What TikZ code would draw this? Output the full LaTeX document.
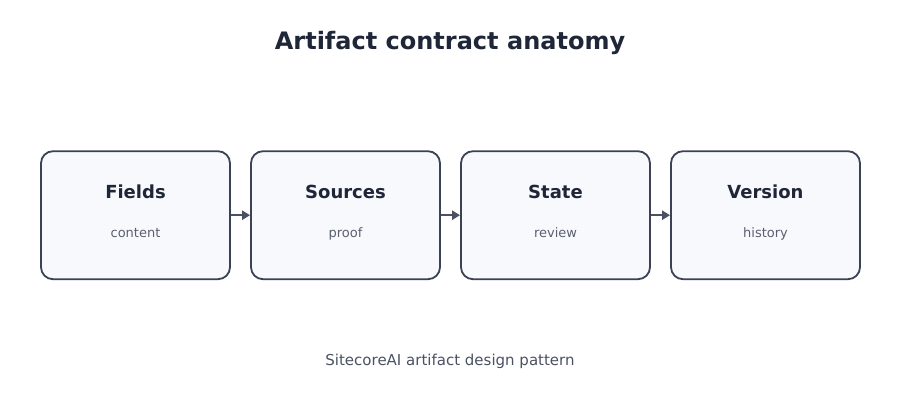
\documentclass[tikz,border=0pt]{standalone}
\usepackage{fontspec}
\setmainfont{DejaVu Sans}
\usetikzlibrary{arrows.meta}
\definecolor{ink}{HTML}{1E2638}
\definecolor{edge}{HTML}{3B4255}
\definecolor{boxfill}{HTML}{F7F9FC}
\definecolor{sub}{HTML}{5A6070}
\definecolor{foot}{HTML}{4A5163}
\definecolor{arr}{HTML}{4A5163}
\begin{document}
\begin{tikzpicture}[x=1pt,y=-1pt,
  stagebox/.style={draw=edge,line width=1.8pt,fill=boxfill,rounded corners=12pt,minimum width=189pt,minimum height=128pt,inner sep=0pt},
  headtxt/.style={anchor=base,inner sep=0pt,font=\fontsize{18}{20}\selectfont\bfseries,text=ink},
  subtxt/.style={anchor=base,inner sep=0pt,font=\fontsize{13}{15}\selectfont,text=sub},
  link/.style={draw=arr,line width=2.2pt,-{Triangle[length=8pt,width=9pt]}}]
\useasboundingbox (0,0) rectangle (900,420);
\node[anchor=base,inner sep=0pt,font=\fontsize{24}{28}\selectfont\bfseries,text=ink] (title) at (450,49.8) {Artifact contract anatomy};
\foreach \n/\x/\h/\s in {a/135.5/Fields/content,b/345.5/Sources/proof,c/555.5/State/review,d/765.5/Version/history}{
  \node[stagebox] (\n) at (\x,215.2) {};
  \node[headtxt] (\n h) at (\x,198.4) {\h};
  \node[subtxt] (\n s) at (\x,237.3) {\s};
}
\draw[link] (a.east) -- (b.west);
\draw[link] (b.east) -- (c.west);
\draw[link] (c.east) -- (d.west);
\node[anchor=base,inner sep=0pt,font=\fontsize{15}{18}\selectfont,text=foot] (foot) at (450,365.3) {SitecoreAI artifact design pattern};
\end{tikzpicture}
\end{document}
